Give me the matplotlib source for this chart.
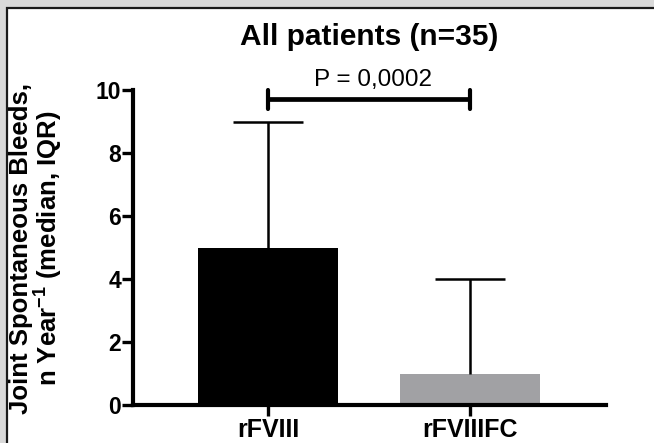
import numpy as np
import matplotlib
matplotlib.use("Agg")
import matplotlib.pyplot as plt
from matplotlib.patches import Rectangle

plt.rcParams['font.family'] = ['Liberation Sans', 'DejaVu Sans']
plt.rcParams['mathtext.fontset'] = 'custom'
plt.rcParams['mathtext.rm'] = 'Liberation Sans:bold'
plt.rcParams['mathtext.default'] = 'rm'

# data
groups = ["rFVIII", "rFVIIIFC"]
medians = [5, 1]
iqr_upper = [9, 4]
bar_colors = ["#000000", "#a1a1a4"]
p_text = "P = 0,0002"
p_level = 9.7
title = "All patients (n=35)"
ylabel = "Joint Spontaneous Bleeds,\nn Year$^{-1}$ (median, IQR)"
yticks = [0, 2, 4, 6, 8, 10]

W, H = 654, 443
fig = plt.figure(figsize=(W / 100, H / 100), dpi=100)
fig.patch.set_facecolor("#d9d9d9")

# white panel with dark frame, running off right and bottom edges
fig.patches.append(Rectangle((7 / W, -0.1), 1.2, 1 - 8 / H + 0.1, transform=fig.transFigure,
                             facecolor="white", edgecolor="#1a1a1a", linewidth=1.6, zorder=-5))

ax = fig.add_axes([133 / W, 1 - 405 / H, (606 - 133) / W, (405 - 90) / H])
ax.set_facecolor("none")

x = np.arange(len(groups))
ax.bar(x, medians, width=0.69, color=bar_colors, zorder=2)
# upper whisker only (IQR top), single cap
ax.vlines(x, medians, iqr_upper, color="black", lw=1.8, zorder=3)
ax.hlines(iqr_upper, x - 0.173, x + 0.173, color="black", lw=1.8, zorder=3)

# significance bracket
ax.plot([x[0], x[1]], [p_level, p_level], color="black", lw=3.4, solid_capstyle="butt", clip_on=False)
for xi in x:
    ax.plot([xi, xi], [p_level - 0.31, p_level + 0.31], color="black", lw=3,
            solid_capstyle="round", clip_on=False)
ax.text(0.52, p_level + 0.62, p_text, ha="center", va="center", fontsize=17.5)

ax.set_xlim(-0.668, 1.673)
ax.set_ylim(0, 10)
ax.set_xticks(x)
ax.set_xticklabels(groups, fontsize=18, fontweight="bold")
ax.set_yticks(yticks)
ax.set_yticklabels([str(t) for t in yticks], fontsize=16.5, fontweight="bold")
for s in ["top", "right"]:
    ax.spines[s].set_visible(False)
for s in ["left", "bottom"]:
    ax.spines[s].set_linewidth(3)
ax.tick_params(axis="both", length=8, width=2.4, pad=0.5)
ax.tick_params(axis="x", pad=1.5)

fig.text(369 / W, 1 - 37 / H, title, ha="center", va="center", fontsize=21.5, fontweight="bold")
fig.text(37 / W, 1 - 248 / H, ylabel, ha="center", va="center", rotation=90,
         fontsize=18.5, fontweight="bold", linespacing=1.0)

fig.savefig("out.png", dpi=100, facecolor=fig.get_facecolor())
